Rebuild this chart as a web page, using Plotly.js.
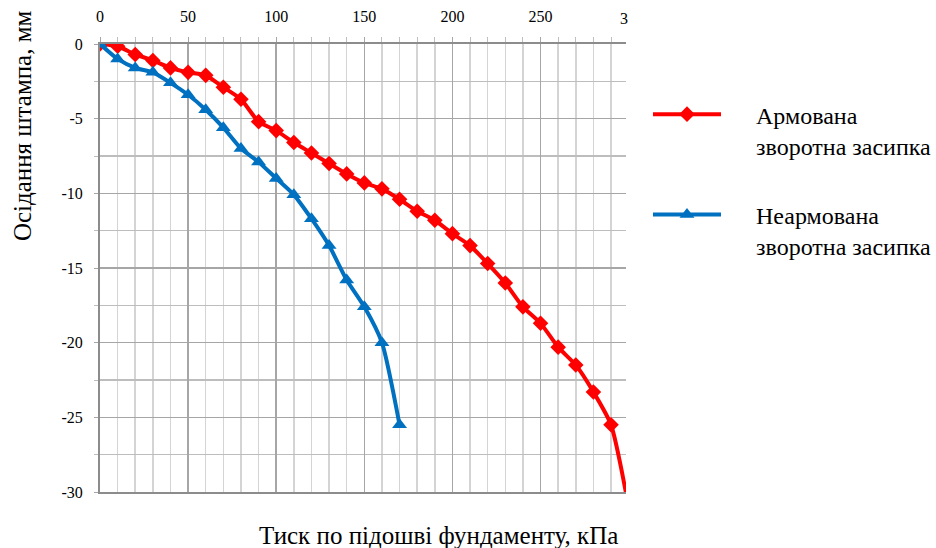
<!DOCTYPE html>
<html><head><meta charset="utf-8">
<script src="https://cdn.plot.ly/plotly-3.0.1.min.js"></script>
<style>html,body{margin:0;padding:0;background:#fff;}#chart{width:936px;height:548px;}</style>
</head><body><div id="chart"></div>
<script>
// Pressure (kPa) and settlement (mm)
const pressureReinforced = [0,10,20,30,40,50,60,70,80,90,100,110,120,130,140,150,160,170,180,190,200,210,220,230,240,250,260,270,280,290,300];
const settlementReinforced = [0,-0.15,-0.7,-1.1,-1.6,-1.9,-2.1,-2.9,-3.7,-5.2,-5.8,-6.6,-7.3,-8.0,-8.7,-9.3,-9.7,-10.4,-11.2,-11.8,-12.7,-13.5,-14.7,-16.0,-17.6,-18.7,-20.3,-21.5,-23.3,-25.5,-31.0];
const pressureUnreinforced = [0,10,20,30,40,50,60,70,80,90,100,110,120,130,140,150,160,170];
const settlementUnreinforced = [0,-1.0,-1.6,-1.9,-2.6,-3.4,-4.4,-5.6,-7.0,-7.9,-9.0,-10.1,-11.7,-13.5,-15.8,-17.6,-20.0,-25.5];
const seriesNames = ["Армована<br>зворотна засипка","Неармована<br>зворотна засипка"];
const xTickVals = [0,50,100,150,200,250];
const xTickText = ["0","50","100","150","200","250"];
const yTickVals = [0,-5,-10,-15,-20,-25,-30];
const yTickText = ["0","-5","-10","-15","-20","-25","-30"];
const xTitle = "Тиск по підошві фундаменту, кПа";
const yTitle = "Осідання штампа, мм";
const cutTickText = "3";

const serif = "Liberation Serif";
const pad = "\u00A0".repeat(5);
const padName = n => n.split("<br>").map(s => pad + s).join("<br>");
const traces = [
  {x: pressureReinforced, y: settlementReinforced, name: padName(seriesNames[0]), legendgroup:"a",
   mode: "lines+markers", line: {color: "#ff0000", width: 4, shape: "spline", smoothing: 0.6},
   marker: {symbol: "diamond", size: 12, color: "#ff0000"}},
  {x: pressureUnreinforced, y: settlementUnreinforced, name: padName(seriesNames[1]), legendgroup:"b",
   mode: "lines+markers", line: {color: "#0070c0", width: 4, shape: "spline", smoothing: 0.6},
   marker: {symbol: "triangle-up", size: 13, color: "#0070c0"}}
];
const layout = {
  width: 936, height: 548,
  margin: {l: 100, r: 310, t: 44, b: 56, autoexpand: false},
  paper_bgcolor: "#fff", plot_bgcolor: "#fff",
  font: {family: serif, color: "#000", size: 16},
  xaxis: {side: "top", range: [0, 298.5], tickmode: "array", tickvals: xTickVals, ticktext: xTickText,
    showgrid: true, gridcolor: "#a6a6a6", gridwidth: 1.5,
    showline: true, linecolor: "#8c8c8c", linewidth: 2, mirror: true,
    ticks: "outside", ticklen: 5, tickcolor: "#a6a6a6",
    ticklabelstandoff: 9, automargin: false,
    minor: {dtick: 10, tick0: 0, showgrid: true, gridcolor: "#d4d4d4", gridwidth: 1.5, ticks: "outside", ticklen: 5, tickcolor: "#bfbfbf"},
    zeroline: false, tickfont: {size: 16, family: serif, color: "#000"}},
  yaxis: {range: [-30, 0], tickmode: "array", tickvals: yTickVals, ticktext: yTickText,
    showgrid: true, gridcolor: "#a6a6a6", gridwidth: 1.5,
    showline: true, linecolor: "#8c8c8c", linewidth: 2, automargin: false,
    ticks: "outside", ticklen: 4, tickcolor: "#a6a6a6", ticklabelstandoff: 8,
    minor: {dtick: 2.5, tick0: 0, showgrid: true, gridcolor: "#bdbdbd", gridwidth: 1.5, ticks: "outside", ticklen: 4, tickcolor: "#bdbdbd"},
    zeroline: false, tickfont: {size: 16, family: serif, color: "#000"}},
  showlegend: true,
  legend: {xref: "container", yref: "container", x: 0.6923, xanchor: "left", y: 0.832, yanchor: "top", valign: "top",
    font: {size: 24, family: serif, color: "#000"}, itemwidth: 68, tracegroupgap: 35,
    bgcolor: "rgba(0,0,0,0)"},
  annotations: [
    {text: yTitle, xref: "paper", yref: "paper", x: -0.1483, y: 0.819, textangle: -90,
     showarrow: false, font: {size: 25, family: serif}, xanchor: "center", yanchor: "middle"},
    {text: xTitle, xref: "paper", yref: "paper", x: 0.6426, y: -0.097,
     showarrow: false, font: {size: 25, family: serif}, xanchor: "center", yanchor: "middle"},
    {text: cutTickText, xref: "paper", yref: "paper", x: 0.9848, y: 1, yshift: 25.5, xanchor: "left", yanchor: "middle",
     showarrow: false, font: {size: 16, family: serif}}
  ]
};
Plotly.newPlot("chart", traces, layout, {staticPlot: true});
</script></body></html>
